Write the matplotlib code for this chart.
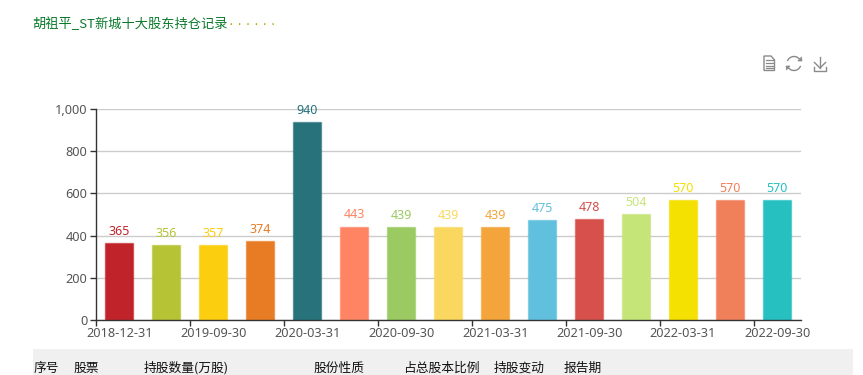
import matplotlib
matplotlib.use("Agg")
import matplotlib.pyplot as plt
from matplotlib.patches import Rectangle, Polygon, Arc
from matplotlib.colors import to_rgba

plt.rcParams['font.family'] = ['Noto Sans CJK SC', 'DejaVu Sans']

categories = ["2018-12-31", "2019-06-30", "2019-09-30", "2019-12-31", "2020-03-31",
              "2020-06-30", "2020-09-30", "2020-12-31", "2021-03-31", "2021-06-30",
              "2021-09-30", "2021-12-31", "2022-03-31", "2022-06-30", "2022-09-30"]
values = [365, 356, 357, 374, 940, 443, 439, 439, 439, 475, 478, 504, 570, 570, 570]
colors = ["#c1232b", "#b5c334", "#fcce10", "#e87c25", "#27727b",
          "#fe8463", "#9bca63", "#fad860", "#f3a43b", "#60c0dd",
          "#d7504b", "#c6e579", "#f4e001", "#f0805a", "#26c0c0"]
y_ticks = [0, 200, 400, 600, 800, 1000]
table_headers = ["序号", "股票", "持股数量(万股)", "股份性质", "占总股本比例", "持股变动", "报告期"]
table_x = [33.5, 73.5, 143.5, 313.5, 403, 493.5, 563.5]
title = "胡祖平_ST新城十大股东持仓记录"
title_dots = "· · · · · ·"

W, H = 863, 375
fig = plt.figure(figsize=(W / 100, H / 100), dpi=100, facecolor="white")
px = fig.add_axes([0, 0, 1, 1], zorder=0)
px.set_xlim(0, W)
px.set_ylim(H, 0)
px.axis("off")

ax = fig.add_axes([95.8 / W, 1 - 320 / H, (800.5 - 95.8) / W, (320 - 109) / H], zorder=1)
ax.patch.set_alpha(0)
x = list(range(len(values)))
ax.set_xlim(-0.5, len(values) - 0.5)
ax.set_ylim(0, 1000)
ax.set_axisbelow(True)
ax.yaxis.grid(True, color="#cccccc", lw=1)
ax.xaxis.grid(False)
edge = [to_rgba(c, 0.55) for c in colors]
ax.bar(x, values, width=0.6, color=colors, edgecolor=edge, linewidth=1)
for i, v in enumerate(values):
    ax.annotate(str(v), (i, v), xytext=(0, 3.7), textcoords="offset points", ha="center",
                va="bottom", color=colors[i], fontsize=9, family="Noto Sans")

for s in ("top", "right"):
    ax.spines[s].set_visible(False)
for s in ("left", "bottom"):
    ax.spines[s].set_color("#333333")
    ax.spines[s].set_linewidth(1)
ax.set_yticks(y_ticks)
ax.set_yticklabels([f"{t:,}" for t in y_ticks], fontsize=9.2, color="#555555", family="Noto Sans")
ax.tick_params(axis="y", length=4, width=1, color="#333333", pad=2)
ax.set_xticks([i - 0.5 for i in x[::2]])
ax.set_xticklabels([])
ax.set_xticks(x[::2], minor=True)
ax.set_xticklabels(categories[::2], minor=True, fontsize=9.2, color="#555555", family="Noto Sans")
ax.tick_params(axis="x", which="major", length=4, width=1, color="#333333")
ax.tick_params(axis="x", which="minor", length=0, pad=5)

# title
px.text(32, 24, title, fontsize=9.5, color="#0b7a2c", va="center", ha="left")
px.text(229, 24, title_dots, fontsize=10, color="#b8a800", va="center", ha="left", family="Liberation Sans")

# toolbox icons
ic = "#8a8a8a"
px.add_patch(Polygon([(764, 56), (771, 56), (774.5, 60), (774.5, 70.5), (764, 70.5)], closed=True,
                     fill=False, ec=ic, lw=1))
for yy in (60, 63, 65.5, 68):
    px.plot([766, 773], [yy, yy], color=ic, lw=0.9)
px.add_patch(Arc((794, 63.5), 14, 14, theta1=200, theta2=325, ec=ic, lw=1))
px.add_patch(Arc((794, 63.5), 14, 14, theta1=20, theta2=145, ec=ic, lw=1))
px.add_patch(Polygon([(798, 61), (802, 61), (801.5, 57)], closed=True, fc=ic, ec=ic, lw=0.5))
px.add_patch(Polygon([(786, 66), (790, 66), (786.5, 70)], closed=True, fc=ic, ec=ic, lw=0.5))
px.plot([820, 820], [57, 67.5], color=ic, lw=1)
px.plot([814.5, 820, 825.5], [62.5, 68, 62.5], color=ic, lw=1)
px.plot([813.5, 813.5, 826, 826], [66.5, 70.5, 70.5, 66.5], color=ic, lw=1)

# table header
px.add_patch(Rectangle((33, 349), 820, 26, fc="#f0f0f0", ec="none"))
for tx, t in zip(table_x, table_headers):
    px.text(tx, 368, t, fontsize=9.2, color="#111111", va="center", ha="left")

fig.savefig("out.png", dpi=100, facecolor="white")
